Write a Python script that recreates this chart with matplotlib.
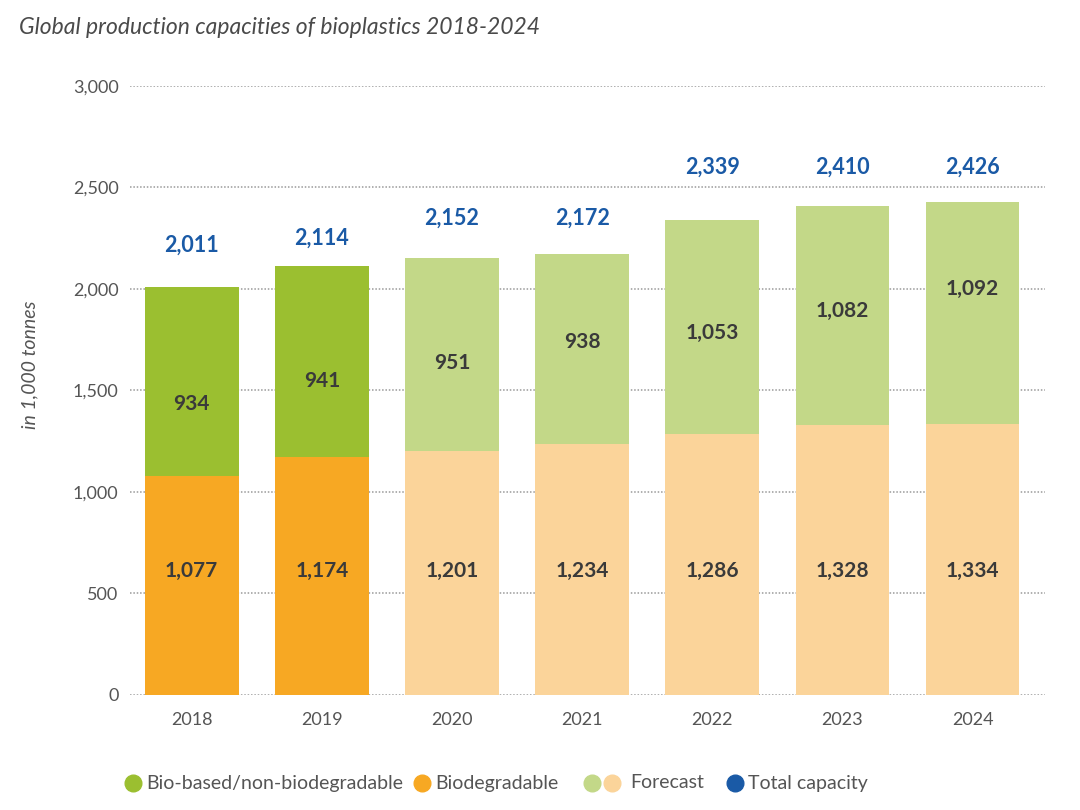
import numpy as np
import matplotlib.pyplot as plt
from matplotlib.lines import Line2D


plt.rcParams.update({
    "font.family": ["Lato", "DejaVu Sans"],
    "font.size": 13,
    "axes.linewidth": 0,
})


years = ["2018", "2019", "2020", "2021", "2022", "2023", "2024"]
biodegradable = [1077, 1174, 1201, 1234, 1286, 1328, 1334]
non_biodegradable = [934, 941, 951, 938, 1053, 1082, 1092]
totals = [2011, 2114, 2152, 2172, 2339, 2410, 2426]
is_forecast = [False, False, True, True, True, True, True]

y_ticks = [0, 500, 1000, 1500, 2000, 2500, 3000]

# label heights (data units) as placed in the original figure
bottom_label_y = 610
top_label_y = [1433, 1547, 1635, 1739, 1783, 1892, 2000]
total_label_y = [2217, 2251, 2350, 2350, 2601, 2601, 2601]

c_green = "#9bbf30"
c_orange = "#f7a823"
c_green_fc = "#c3d888"
c_orange_fc = "#fbd49a"
c_blue = "#1a5aa6"
c_text = "#3a3a3a"
c_grey = "#555555"

fig = plt.figure(figsize=(10.8, 8.1), dpi=100)
ax = fig.add_axes([0.120, 0.142, 0.848, 0.752])

x = np.arange(len(years))
bottom_cols = [c_orange_fc if f else c_orange for f in is_forecast]
top_cols = [c_green_fc if f else c_green for f in is_forecast]

ax.bar(x, biodegradable, width=0.72, color=bottom_cols, zorder=3)
ax.bar(x, non_biodegradable, width=0.72, bottom=biodegradable,
       color=top_cols, zorder=3)

for i in range(len(years)):
    ax.text(x[i], bottom_label_y, f"{biodegradable[i]:,}",
            ha="center", va="center", fontsize=15, fontweight="bold",
            color=c_text, zorder=4)
    ax.text(x[i], top_label_y[i], f"{non_biodegradable[i]:,}",
            ha="center", va="center", fontsize=15, fontweight="bold",
            color=c_text, zorder=4)
    ax.text(x[i], total_label_y[i], f"{totals[i]:,}",
            ha="center", va="center", fontsize=15.5, fontweight="bold",
            color=c_blue, zorder=4)

ax.set_xlim(-0.477, 6.56)
ax.set_ylim(0, 3000)
ax.set_xticks(x)
ax.set_xticklabels(years)
ax.set_yticks(y_ticks)
ax.set_yticklabels([f"{v:,}" for v in y_ticks])
ax.tick_params(axis="both", length=0, colors=c_grey, labelsize=13)
ax.tick_params(axis="x", pad=12)
ax.tick_params(axis="y", pad=8)
ax.grid(axis="y", linestyle=(0, (1, 1.2)), color="#9a9a9a", lw=1.1, zorder=0)
ax.set_axisbelow(True)
for spine in ax.spines.values():
    spine.set_visible(False)

ax.set_ylabel("in 1,000 tonnes", style="italic", color=c_grey, fontsize=14)
ax.yaxis.set_label_coords(-0.100, 0.542)

fig.text(0.018, 0.966, "Global production capacities of bioplastics 2018-2024",
         style="italic", fontsize=16.5, color="#4a4a4a", ha="left", va="center")


# legend drawn by hand so the two forecast dots sit side by side
leg_y = 1 - 783 / 810
leg_items = [
    ([c_green], "Bio-based/non-biodegradable", 133, 146),
    ([c_orange], "Biodegradable", 422, 435),
    ([c_green_fc, c_orange_fc], "Forecast", 592, 630),
    ([c_blue], "Total capacity", 735, 748),
]
for cols, label, x0, xt in leg_items:
    for k, col in enumerate(cols):
        fig.add_artist(Line2D([(x0 + 20 * k) / 1080], [leg_y],
                              marker="o", linestyle="none", markersize=12,
                              markerfacecolor=col, markeredgecolor=col,
                              transform=fig.transFigure))
    fig.text(xt / 1080, leg_y, label, ha="left", va="center",
             fontsize=14, color=c_grey)

fig.savefig("out.png", dpi=100)
